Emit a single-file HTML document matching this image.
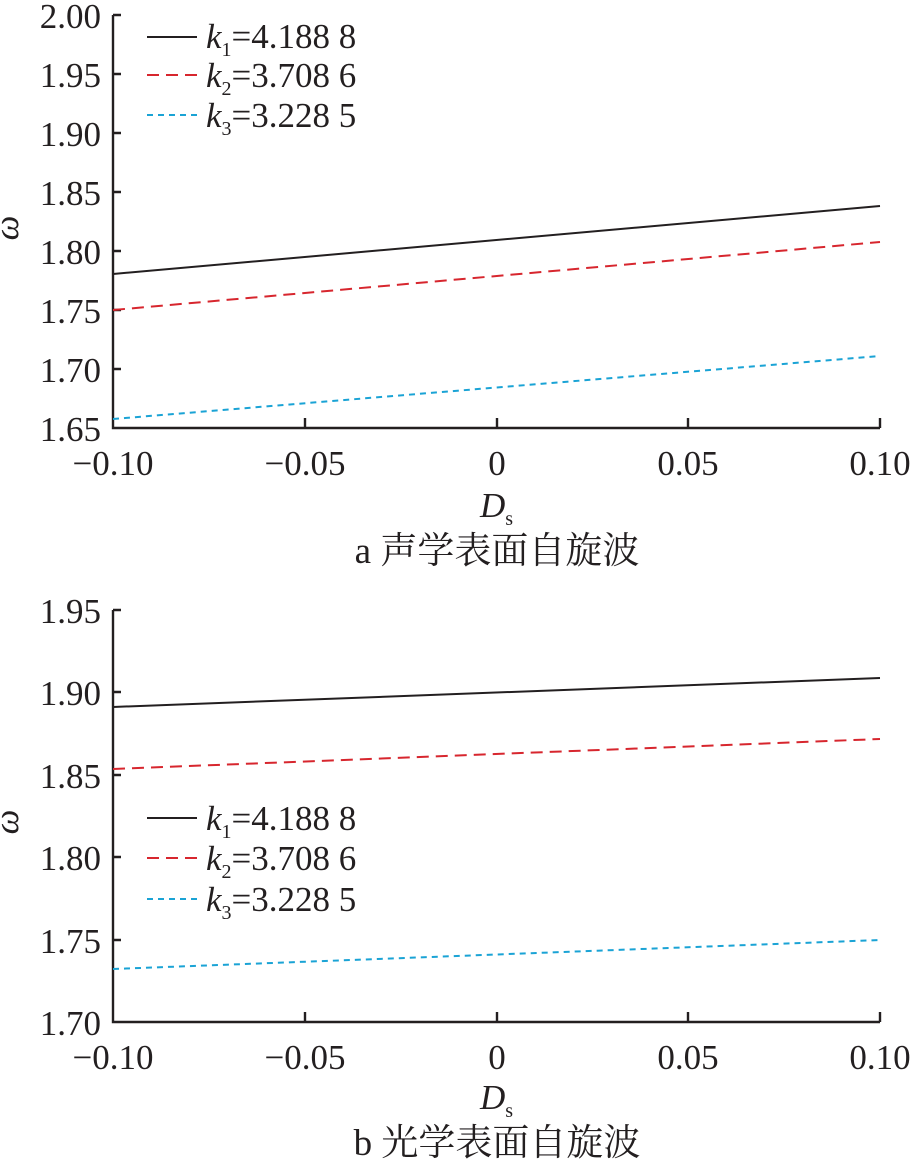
<!DOCTYPE html>
<html><head><meta charset="utf-8"><style>
html,body{margin:0;padding:0;background:#fff;}
svg{display:block;}
text{font-family:"Liberation Serif","Noto Serif CJK SC",serif;fill:#231f20;}
</style></head><body>
<svg width="917" height="1163" viewBox="0 0 917 1163" xmlns="http://www.w3.org/2000/svg">
<g font-size="35">
<!-- Top plot -->
<g stroke="#231f20" stroke-width="2.4" fill="none">
<path d="M113,15 V428 H880"/>
<path d="M113,15 h8 M113,74 h8 M113,133 h8 M113,192 h8 M113,251 h8 M113,310 h8 M113,369 h8"/>
<path d="M305,428 v-10 M497,428 v-10 M688,428 v-10 M880,428 v-10"/>
</g>
<g text-anchor="end">
<text x="101" y="28">2.00</text><text x="101" y="87">1.95</text><text x="101" y="146">1.90</text>
<text x="101" y="205">1.85</text><text x="101" y="264">1.80</text><text x="101" y="323">1.75</text>
<text x="101" y="382">1.70</text><text x="101" y="441">1.65</text>
</g>
<g text-anchor="middle">
<text x="113" y="475">−0.10</text><text x="305" y="475">−0.05</text><text x="497" y="475">0</text>
<text x="688" y="475">0.05</text><text x="880" y="475">0.10</text>
</g>
<text x="12" y="222" font-style="italic" transform="rotate(-90 18 222)" text-anchor="middle">ω</text>
<text x="480" y="517" font-style="italic">D<tspan font-size="20" font-style="normal" dy="8">s</tspan></text>
<text x="497" y="563" text-anchor="middle" font-size="37">a  声学表面自旋波</text>
<g fill="none" stroke-width="2">
<path d="M113,274 L880,206" stroke="#231f20"/>
<path d="M113,310 L880,242" stroke="#d7262e" stroke-dasharray="12,7"/>
<path d="M113,419 L880,356" stroke="#1aa3d5" stroke-dasharray="6,5"/>
<path d="M147,37 h50" stroke="#231f20"/>
<path d="M147,75 h50" stroke="#d7262e" stroke-dasharray="12,7"/>
<path d="M147,115 h50" stroke="#1aa3d5" stroke-dasharray="6,5"/>
</g>
<text x="206" y="48"><tspan font-style="italic">k</tspan><tspan font-size="20" dy="8">1</tspan><tspan dy="-8">=4.188 8</tspan></text>
<text x="206" y="87"><tspan font-style="italic">k</tspan><tspan font-size="20" dy="8">2</tspan><tspan dy="-8">=3.708 6</tspan></text>
<text x="206" y="127"><tspan font-style="italic">k</tspan><tspan font-size="20" dy="8">3</tspan><tspan dy="-8">=3.228 5</tspan></text>

<!-- Bottom plot -->
<g stroke="#231f20" stroke-width="2.4" fill="none">
<path d="M113,610 V1022 H880"/>
<path d="M113,610 h8 M113,692 h8 M113,775 h8 M113,857 h8 M113,940 h8"/>
<path d="M305,1022 v-10 M497,1022 v-10 M688,1022 v-10 M880,1022 v-10"/>
</g>
<g text-anchor="end">
<text x="101" y="623">1.95</text><text x="101" y="705">1.90</text><text x="101" y="788">1.85</text>
<text x="101" y="870">1.80</text><text x="101" y="953">1.75</text><text x="101" y="1035">1.70</text>
</g>
<g text-anchor="middle">
<text x="113" y="1069">−0.10</text><text x="305" y="1069">−0.05</text><text x="497" y="1069">0</text>
<text x="688" y="1069">0.05</text><text x="880" y="1069">0.10</text>
</g>
<text x="12" y="816" font-style="italic" transform="rotate(-90 18 816)" text-anchor="middle">ω</text>
<text x="480" y="1109" font-style="italic">D<tspan font-size="20" font-style="normal" dy="8">s</tspan></text>
<text x="497" y="1155" text-anchor="middle" font-size="37">b  光学表面自旋波</text>
<g fill="none" stroke-width="2">
<path d="M113,707 L880,678" stroke="#231f20"/>
<path d="M113,769 L880,739" stroke="#d7262e" stroke-dasharray="12,7"/>
<path d="M113,969 L880,940" stroke="#1aa3d5" stroke-dasharray="6,5"/>
<path d="M147,818 h50" stroke="#231f20"/>
<path d="M147,858 h50" stroke="#d7262e" stroke-dasharray="12,7"/>
<path d="M147,899 h50" stroke="#1aa3d5" stroke-dasharray="6,5"/>
</g>
<text x="206" y="830"><tspan font-style="italic">k</tspan><tspan font-size="20" dy="8">1</tspan><tspan dy="-8">=4.188 8</tspan></text>
<text x="206" y="870"><tspan font-style="italic">k</tspan><tspan font-size="20" dy="8">2</tspan><tspan dy="-8">=3.708 6</tspan></text>
<text x="206" y="911"><tspan font-style="italic">k</tspan><tspan font-size="20" dy="8">3</tspan><tspan dy="-8">=3.228 5</tspan></text>
</g>
</svg>
</body></html>
